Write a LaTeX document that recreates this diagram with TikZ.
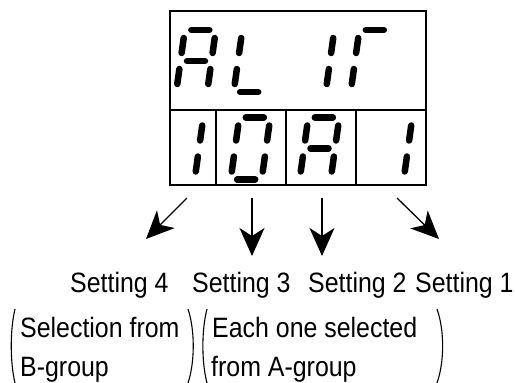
\documentclass[tikz,border=0pt]{standalone}
\usepackage{fontspec}
\newfontfamily\labfont[FakeStretch=0.89]{Liberation Sans}
\usetikzlibrary{arrows.meta}
% seven-segment helpers: point (u,v) relative to left edge at mid line
\newcommand\segpt[4]{({#1+(#3)+0.14*(#4)},{#2-(#4)})}
\newcommand\segline[6]{\draw[seg] \segpt{#1}{#2}{#3}{#4} -- \segpt{#1}{#2}{#5}{#6};}
\newcommand\dsga[2]{\segline{#1}{#2}{6.5}{31}{24.5}{31}}
\newcommand\dsgb[2]{\segline{#1}{#2}{31}{23}{31}{8}}
\newcommand\dsgc[2]{\segline{#1}{#2}{31}{-8}{31}{-23}}
\newcommand\dsgd[2]{\segline{#1}{#2}{6.5}{-31}{24.5}{-31}}
\newcommand\dsge[2]{\segline{#1}{#2}{0}{-8}{0}{-23}}
\newcommand\dsgf[2]{\segline{#1}{#2}{0}{23}{0}{8}}
\newcommand\dsgg[2]{\segline{#1}{#2}{6.5}{0}{24.5}{0}}
\newcommand\sevseg[3]{\foreach \s in {#3}{\csname dsg\s\endcsname{#1}{#2}}}
\begin{document}
\begin{tikzpicture}[x=1pt,y=-1pt,
  seg/.style={line width=6.5pt,line cap=round},
  cell/.style={draw,line width=1.3pt,rectangle,inner sep=0,outer sep=0},
  pointer/.style={line width=1.3pt,-{Stealth[length=28pt,width=25pt,inset=8pt]}},
  lab/.style={font=\labfont\fontsize{28}{34}\selectfont,inner sep=0,anchor=base west},
  paren/.style={line width=1.1pt}]
\useasboundingbox (0,0) rectangle (515,383);
% display frame
\node[cell,minimum width=256pt,minimum height=99pt] (top) at (298,60.5) {};
\node[cell,minimum width=46pt,minimum height=75pt] (c4) at (193,147.5) {};
\node[cell,minimum width=70pt,minimum height=75pt] (c3) at (251,147.5) {};
\node[cell,minimum width=70pt,minimum height=75pt] (c2) at (321,147.5) {};
\node[cell,minimum width=70pt,minimum height=75pt] (c1) at (391,147.5) {};
% top row: A L 1 r
\sevseg{180.5}{61}{a,b,c,e,f,g}
\sevseg{238}{61}{d,e,f}
\sevseg{299}{61}{b,c}
\sevseg{355}{61}{a,e,f}
% bottom row: 1 0 A 1
\sevseg{168}{148.5}{b,c}
\sevseg{235}{148.5}{a,b,c,d,e,f}
\sevseg{304}{148.5}{a,b,c,e,f,g}
\sevseg{377}{148.5}{b,c}
% arrows
\coordinate (s4) at (187,198); \coordinate (e4) at (146,239);
\coordinate (s3) at (252,198); \coordinate (e3) at (252,256);
\coordinate (s2) at (322,198); \coordinate (e2) at (322,256);
\coordinate (s1) at (397,198); \coordinate (e1) at (439,239);
\draw[pointer] (s4) -- (e4);
\draw[pointer] (s3) -- (e3);
\draw[pointer] (s2) -- (e2);
\draw[pointer] (s1) -- (e1);
% labels
\node[lab] (t4) at (70,292) {Setting 4};
\node[lab] (t3) at (192,292) {Setting 3};
\node[lab] (t2) at (308,292) {Setting 2};
\node[lab] (t1) at (415,292) {Setting 1};
\node[lab] (b1) at (20,337) {Selection from};
\node[lab] (b2) at (20,376) {B-group};
\node[lab] (a1) at (212,337) {Each one selected};
\node[lab] (a2) at (211,376) {from A-group};
% parentheses
\draw[paren] (15,309) .. controls (10,330) and (10,362) .. (15,383);
\draw[paren] (188,309) .. controls (195,330) and (195,362) .. (188,383);
\draw[paren] (207,309) .. controls (201.5,330) and (201.5,362) .. (207,383);
\draw[paren] (437,309) .. controls (444.5,330) and (444.5,362) .. (437,383);
\end{tikzpicture}
\end{document}
